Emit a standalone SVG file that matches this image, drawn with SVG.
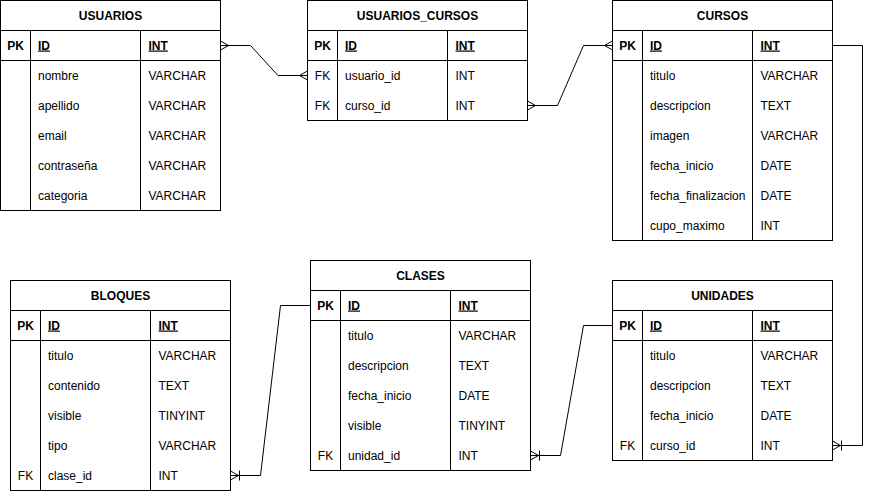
<svg xmlns="http://www.w3.org/2000/svg" width="872" height="491" viewBox="0 0 872 491">
  <style>
    .box { fill: #ffffff; stroke: #000000; stroke-width: 1; }
    .ln { stroke: #000000; stroke-width: 1; fill: none; }
    text { font-family: "Liberation Sans", Arial, Helvetica, sans-serif; font-size: 12px; fill: #000000; }
    .title { font-weight: bold; text-anchor: middle; }
    .key { text-anchor: middle; }
    .pk { font-weight: bold; }
    .u { text-decoration: underline; }
    .edge { stroke: #000000; stroke-width: 1; fill: none; }
  </style>
  <defs>
    <!-- crow's foot (many) -->
    <marker id="many" markerUnits="userSpaceOnUse" markerWidth="24" markerHeight="24" refX="12" refY="12" viewBox="0 0 24 24" orient="auto-start-reverse" overflow="visible">
      <path d="M12,7.5 L4,12 L12,16.5" fill="none" stroke="#000" stroke-width="1"/>
    </marker>
    <!-- crow's foot with bar (one to many) -->
    <marker id="oneMany" markerUnits="userSpaceOnUse" markerWidth="24" markerHeight="24" refX="12" refY="12" viewBox="0 0 24 24" orient="auto-start-reverse" overflow="visible">
      <path d="M12,7.5 L4,12 L12,16.5 M3,7 L3,17" fill="none" stroke="#000" stroke-width="1"/>
    </marker>
  </defs>

  <rect x="0" y="0" width="872" height="491" fill="#ffffff"/>

  <!-- USUARIOS -->
  <g id="usuarios">
    <rect class="box" x="0.5" y="0.5" width="220" height="210"/>
    <path class="ln" d="M0.5,30.5 H220.5 M0.5,60.5 H220.5 M30.5,30.5 V210.5 M140.5,30.5 V210.5"/>
    <text class="title" x="110.5" y="19.5">USUARIOS</text>
    <text class="key pk" x="15.5" y="49.5">PK</text>
    <text class="pk u" x="38" y="49.5">ID</text>
    <text class="pk u" x="148.5" y="49.5">INT</text>
    <text x="38" y="79.5">nombre</text><text x="148.5" y="79.5">VARCHAR</text>
    <text x="38" y="109.5">apellido</text><text x="148.5" y="109.5">VARCHAR</text>
    <text x="38" y="139.5">email</text><text x="148.5" y="139.5">VARCHAR</text>
    <text x="38" y="169.5">contraseña</text><text x="148.5" y="169.5">VARCHAR</text>
    <text x="38" y="199.5">categoria</text><text x="148.5" y="199.5">VARCHAR</text>
  </g>

  <!-- USUARIOS_CURSOS -->
  <g id="usuarios_cursos">
    <rect class="box" x="307.5" y="0.5" width="220" height="120"/>
    <path class="ln" d="M307.5,30.5 H527.5 M307.5,60.5 H527.5 M337.5,30.5 V120.5 M447.5,30.5 V120.5"/>
    <text class="title" x="417.5" y="19.5">USUARIOS_CURSOS</text>
    <text class="key pk" x="322.5" y="49.5">PK</text>
    <text class="pk u" x="345" y="49.5">ID</text>
    <text class="pk u" x="455.5" y="49.5">INT</text>
    <text class="key" x="322.5" y="79.5">FK</text>
    <text x="345" y="79.5">usuario_id</text><text x="455.5" y="79.5">INT</text>
    <text class="key" x="322.5" y="109.5">FK</text>
    <text x="345" y="109.5">curso_id</text><text x="455.5" y="109.5">INT</text>
  </g>

  <!-- CURSOS -->
  <g id="cursos">
    <rect class="box" x="612.5" y="0.5" width="220" height="240"/>
    <path class="ln" d="M612.5,30.5 H832.5 M612.5,60.5 H832.5 M642.5,30.5 V240.5 M752.5,30.5 V240.5"/>
    <text class="title" x="722.5" y="19.5">CURSOS</text>
    <text class="key pk" x="627.5" y="49.5">PK</text>
    <text class="pk u" x="650" y="49.5">ID</text>
    <text class="pk u" x="760.5" y="49.5">INT</text>
    <text x="650" y="79.5">titulo</text><text x="760.5" y="79.5">VARCHAR</text>
    <text x="650" y="109.5">descripcion</text><text x="760.5" y="109.5">TEXT</text>
    <text x="650" y="139.5">imagen</text><text x="760.5" y="139.5">VARCHAR</text>
    <text x="650" y="169.5">fecha_inicio</text><text x="760.5" y="169.5">DATE</text>
    <text x="650" y="199.5">fecha_finalizacion</text><text x="760.5" y="199.5">DATE</text>
    <text x="650" y="229.5">cupo_maximo</text><text x="760.5" y="229.5">INT</text>
  </g>

  <!-- BLOQUES -->
  <g id="bloques">
    <rect class="box" x="10.5" y="280.5" width="220" height="210"/>
    <path class="ln" d="M10.5,310.5 H230.5 M10.5,340.5 H230.5 M40.5,310.5 V490.5 M150.5,310.5 V490.5"/>
    <text class="title" x="120.5" y="299.5">BLOQUES</text>
    <text class="key pk" x="25.5" y="329.5">PK</text>
    <text class="pk u" x="48" y="329.5">ID</text>
    <text class="pk u" x="158.5" y="329.5">INT</text>
    <text x="48" y="359.5">titulo</text><text x="158.5" y="359.5">VARCHAR</text>
    <text x="48" y="389.5">contenido</text><text x="158.5" y="389.5">TEXT</text>
    <text x="48" y="419.5">visible</text><text x="158.5" y="419.5">TINYINT</text>
    <text x="48" y="449.5">tipo</text><text x="158.5" y="449.5">VARCHAR</text>
    <text class="key" x="25.5" y="479.5">FK</text>
    <text x="48" y="479.5">clase_id</text><text x="158.5" y="479.5">INT</text>
  </g>

  <!-- CLASES -->
  <g id="clases">
    <rect class="box" x="310.5" y="260.5" width="220" height="210"/>
    <path class="ln" d="M310.5,290.5 H530.5 M310.5,320.5 H530.5 M340.5,290.5 V470.5 M450.5,290.5 V470.5"/>
    <text class="title" x="420.5" y="279.5">CLASES</text>
    <text class="key pk" x="325.5" y="309.5">PK</text>
    <text class="pk u" x="348" y="309.5">ID</text>
    <text class="pk u" x="458.5" y="309.5">INT</text>
    <text x="348" y="339.5">titulo</text><text x="458.5" y="339.5">VARCHAR</text>
    <text x="348" y="369.5">descripcion</text><text x="458.5" y="369.5">TEXT</text>
    <text x="348" y="399.5">fecha_inicio</text><text x="458.5" y="399.5">DATE</text>
    <text x="348" y="429.5">visible</text><text x="458.5" y="429.5">TINYINT</text>
    <text class="key" x="325.5" y="459.5">FK</text>
    <text x="348" y="459.5">unidad_id</text><text x="458.5" y="459.5">INT</text>
  </g>

  <!-- UNIDADES -->
  <g id="unidades">
    <rect class="box" x="612.5" y="280.5" width="220" height="180"/>
    <path class="ln" d="M612.5,310.5 H832.5 M612.5,340.5 H832.5 M642.5,310.5 V460.5 M752.5,310.5 V460.5"/>
    <text class="title" x="722.5" y="299.5">UNIDADES</text>
    <text class="key pk" x="627.5" y="329.5">PK</text>
    <text class="pk u" x="650" y="329.5">ID</text>
    <text class="pk u" x="760.5" y="329.5">INT</text>
    <text x="650" y="359.5">titulo</text><text x="760.5" y="359.5">VARCHAR</text>
    <text x="650" y="389.5">descripcion</text><text x="760.5" y="389.5">TEXT</text>
    <text x="650" y="419.5">fecha_inicio</text><text x="760.5" y="419.5">DATE</text>
    <text class="key" x="627.5" y="449.5">FK</text>
    <text x="650" y="449.5">curso_id</text><text x="760.5" y="449.5">INT</text>
  </g>

  <!-- relationships -->
  <g id="connectors">
    <path class="edge" d="M220.5,45.5 H250.5 L278,75.5 H307.5" marker-start="url(#many)" marker-end="url(#many)"/>
    <path class="edge" d="M527.5,105.5 H557.5 L583.5,45.5 H612.5" marker-start="url(#many)" marker-end="url(#many)"/>
    <path class="edge" d="M832.5,45.5 H862.5 V445.5 H832.5" marker-end="url(#oneMany)"/>
    <path class="edge" d="M230.5,475.5 H260.5 L280.5,305.5 H310.5" marker-start="url(#oneMany)"/>
    <path class="edge" d="M530.5,455.5 H560.5 L583.5,325.5 H612.5" marker-start="url(#oneMany)"/>
  </g>
</svg>
